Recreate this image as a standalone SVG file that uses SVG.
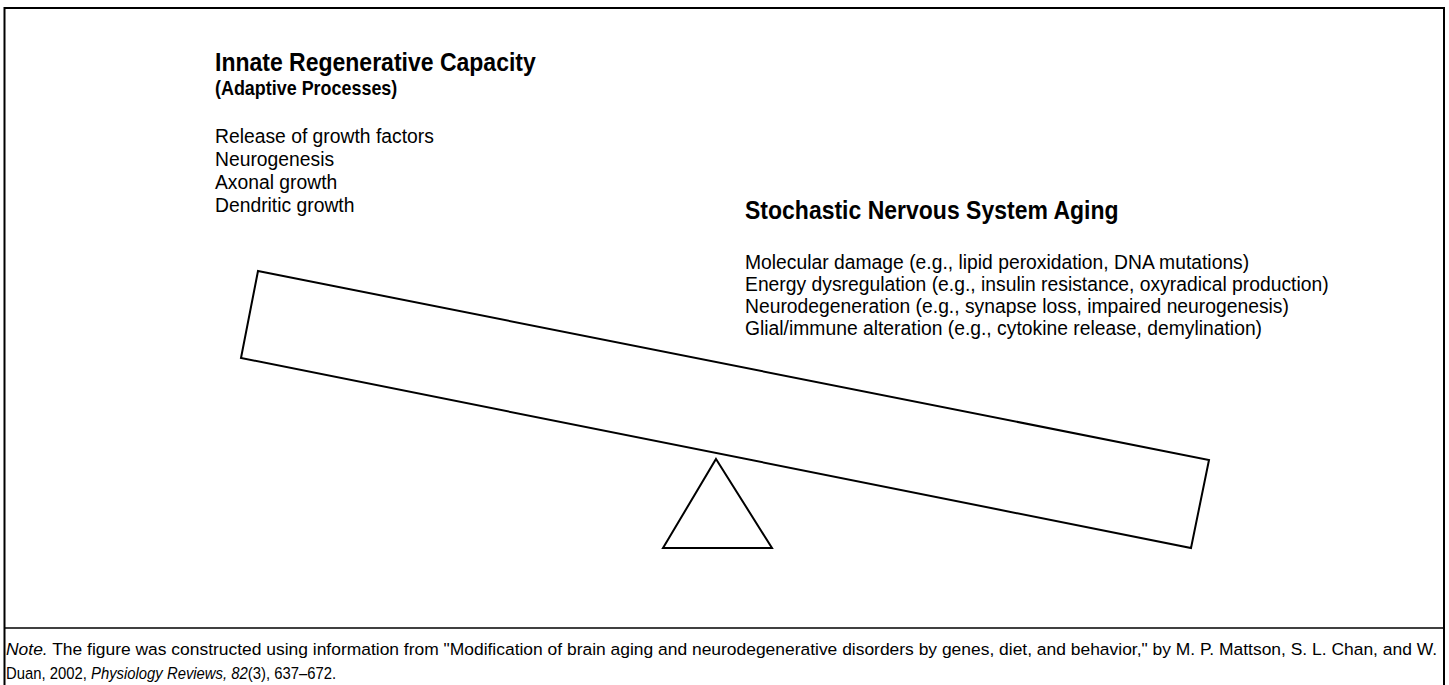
<svg xmlns="http://www.w3.org/2000/svg" width="1449" height="685" viewBox="0 0 1449 685">
<style>
text{font-family:"Liberation Sans",Arial,sans-serif;fill:#000}
.t{font-weight:bold;font-size:25px}
.s{font-weight:bold;font-size:19.5px}
.l{font-size:21px}
.n{font-size:16.5px}
.shape{fill:#fff;stroke:#000;stroke-width:2;stroke-linejoin:miter}
</style>
<rect x="0" y="0" width="1449" height="685" fill="#fff"/>
<path d="M4.5 700 V8 H1444 V700" fill="none" stroke="#000" stroke-width="2"/>
<g transform="scale(0.92,1)">
<g id="left-text">
<text class="t" x="233.7" y="71">Innate Regenerative Capacity</text>
<text class="s" x="233.7" y="95">(Adaptive Processes)</text>
<text class="l" x="233.7" y="143">Release of growth factors</text>
<text class="l" x="233.7" y="166">Neurogenesis</text>
<text class="l" x="233.7" y="189">Axonal growth</text>
<text class="l" x="233.7" y="212">Dendritic growth</text>
</g>
<g id="right-text">
<text class="t" x="809.8" y="219">Stochastic Nervous System Aging</text>
<text class="l" x="809.8" y="269">Molecular damage (e.g., lipid peroxidation, DNA mutations)</text>
<text class="l" x="809.8" y="291">Energy dysregulation (e.g., insulin resistance, oxyradical production)</text>
<text class="l" x="809.8" y="313">Neurodegeneration (e.g., synapse loss, impaired neurogenesis)</text>
<text class="l" x="809.8" y="335">Glial/immune alteration (e.g., cytokine release, demylination)</text>
</g>
</g>
<g transform="scale(0.9,1)">
<g id="note">
<text class="n" x="6.7" y="655" textLength="1590" lengthAdjust="spacingAndGlyphs"><tspan font-style="italic">Note.</tspan> The figure was constructed using information from "Modification of brain aging and neurodegenerative disorders by genes, diet, and behavior," by M. P. Mattson, S. L. Chan, and W.</text>
<text class="n" x="6.7" y="679">Duan, 2002, <tspan font-style="italic">Physiology Reviews, 82</tspan>(3), 637–672.</text>
</g>
</g>
<g id="seesaw">
<polygon id="plank" class="shape" points="258,271 1209,460 1191,548 241,358"/>
<polygon id="fulcrum" class="shape" points="716,459 772,548 663,548"/>
</g>
<line x1="4" y1="628" x2="1444" y2="628" stroke="#000" stroke-width="1.5"/>
</svg>
